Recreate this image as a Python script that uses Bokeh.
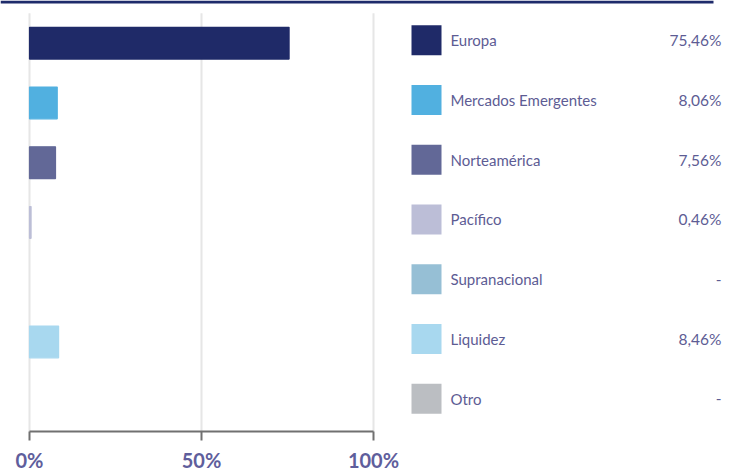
from bokeh.plotting import figure
from bokeh.models import Range1d, ColumnDataSource, FixedTicker
from bokeh.transform import dodge
from bokeh.core.properties import value
from bokeh.embed import file_html
from bokeh.resources import INLINE

# ---- data ----
categories = ["Europa", "Mercados Emergentes", "Norteamérica", "Pacífico",
              "Supranacional", "Liquidez", "Otro"]
weights = [75.46, 8.06, 7.56, 0.46, None, 8.46, None]
colors = ["#1f2a68", "#51b0e0", "#626897", "#bcbed7", "#96bfd5", "#a8d8ef", "#bbbec2"]
x_ticks = [0, 50, 100]
x_tick_labels = ["0%", "50%", "100%"]

labels = [("-" if w is None else f"{w:.2f}".replace(".", ",") + "%") for w in weights]
src = ColumnDataSource(dict(
    idx=list(range(len(categories))),
    cat=categories,
    w=[float("nan") if w is None else w for w in weights],
    lab=labels,
    color=colors,
))

W, H = 740, 474
FRAME_H = 435
PX_PER_UNIT = 3.44      # horizontal scale of the percentage axis
X0 = 29                 # pixel where 0 % sits
BAND = 60.3             # pixels per category band
C0 = 43.1               # pixel centre of first band (from figure top)

p = figure(width=W, height=H, output_backend="svg", toolbar_location=None,
           x_range=Range1d(-X0 / PX_PER_UNIT, (W - X0) / PX_PER_UNIT),
           y_range=Range1d((FRAME_H - C0) / BAND, -C0 / BAND),
           y_axis_location=None,
           min_border_left=0, min_border_right=0, min_border_top=0,
           min_border_bottom=H - FRAME_H)
p.extra_x_ranges = {"px": Range1d(0, W)}
p.extra_y_ranges = {"px": Range1d(FRAME_H, 0)}
p.outline_line_color = None
p.background_fill_color = "white"
p.border_fill_color = "white"
p.xgrid.visible = False
p.ygrid.visible = False

# grid lines
p.segment(x0=x_ticks, x1=x_ticks, y0=[-0.5] * 3, y1=[7] * 3,
          line_color="#e6e6e6", line_width=2)

# bars
p.hbar(y="idx", left=0, right="w", height=32 / BAND, fill_color="color",
       line_color="color", line_width=1.2, source=src)

# top decorative band
p.quad(left=[0], right=[713], top=[0], bottom=[3], color="#1e2b6b",
       line_color=None, x_range_name="px", y_range_name="px")

# legend
p.rect(x=426, y=dodge("idx", -3 / BAND), width=30, height=30,
       width_units="screen", height_units="screen", color="color",
       line_color=None, source=src, x_range_name="px")
p.text(x=450, y=dodge("idx", -3 / BAND), text="cat", source=src,
       x_range_name="px", text_font=value("Lato"), text_font_size="15px",
       text_color="#5d5c94", text_baseline="middle", text_align="left")
p.text(x=721, y=dodge("idx", -3 / BAND), text="lab", source=src,
       x_range_name="px", text_font=value("Lato"), text_font_size="15.5px",
       text_color="#5d5c94", text_baseline="middle", text_align="right")

# x axis
ax = p.xaxis[0]
ax.ticker = FixedTicker(ticks=x_ticks)
ax.major_label_overrides = dict(zip(x_ticks, x_tick_labels))
ax.bounds = (0, 100)
ax.axis_line_color = "#707070"
ax.axis_line_width = 2
ax.major_tick_line_color = "#707070"
ax.major_tick_line_width = 2
ax.major_tick_out = 9
ax.major_tick_in = 0
ax.minor_tick_line_color = None
ax.major_label_standoff = 7
ax.major_label_text_font = "Lato"
ax.major_label_text_font_style = "bold"
ax.major_label_text_font_size = "20px"
ax.major_label_text_color = "#5f5e9c"

open("out.html", "w").write(file_html(p, INLINE))
